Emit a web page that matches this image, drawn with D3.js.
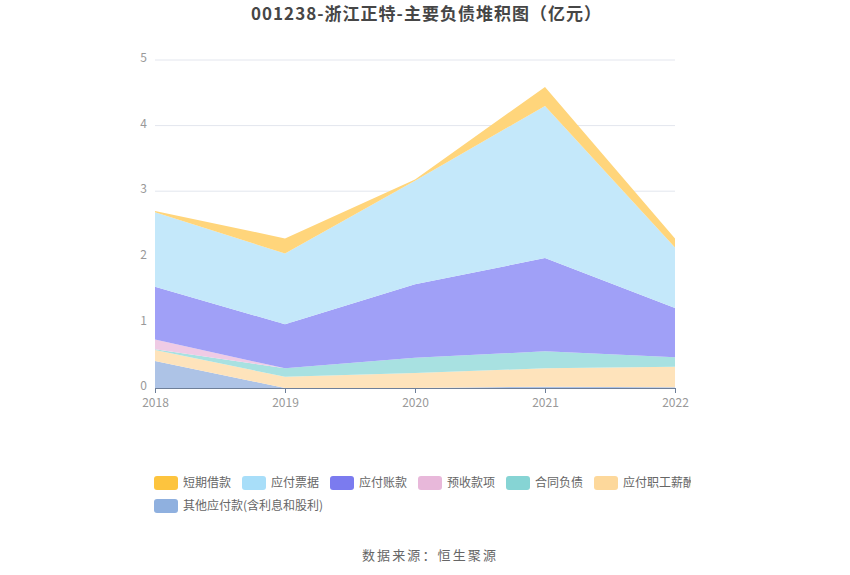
<!DOCTYPE html>
<html><head><meta charset="utf-8">
<script src="https://cdn.jsdelivr.net/npm/d3@7"></script>
<style>body{margin:0;background:#fff}svg{font-family:"Noto Sans CJK SC","Noto Sans",sans-serif}</style>
</head><body><svg id="c" width="850" height="575"></svg>
<script>
const years = ["2018","2019","2020","2021","2022"];
const seriesNames = ["其他应付款(含利息和股利)","应付职工薪酬","合同负债","预收款项","应付账款","应付票据","短期借款"];
const other     = [0.41, 0.00, 0.00, 0.02, 0.01];
const salary    = [0.17, 0.17, 0.23, 0.28, 0.315];
const contract  = [0.01, 0.13, 0.23, 0.26, 0.145];
const advance   = [0.15, 0.00, 0.00, 0.00, 0.00];
const payable   = [0.805, 0.67, 1.12, 1.42, 0.75];
const notes     = [1.135, 1.08, 1.58, 2.32, 0.92];
const shortLoan = [0.02, 0.23, 0.02, 0.29, 0.14];
const yTicks = [0,1,2,3,4,5];
const legendOrder = ["短期借款","应付票据","应付账款","预收款项","合同负债","应付职工薪酬","其他应付款(含利息和股利)"];
const legendColors = {"短期借款":"#fdc43e","应付票据":"#a8def9","应付账款":"#7b7bef","预收款项":"#e8b8da","合同负债":"#86d4d4","应付职工薪酬":"#fdd89b","其他应付款(含利息和股利)":"#8fb0df"};
const areaColors = {"短期借款":"#ffd57b","应付票据":"#c4e8fa","应付账款":"#a0a0f7","预收款项":"#efcbe5","合同负债":"#a8e1e1","应付职工薪酬":"#fee3bb","其他应付款(含利息和股利)":"#adc3e6"};
const seriesData = [other, salary, contract, advance, payable, notes, shortLoan];

const svg = d3.select("#c");
const x = d3.scalePoint().domain(years).range([155,675]);
const y = d3.scaleLinear().domain([0,5]).range([388,60]);

const table = years.map((yr,i)=>{const o={year:yr}; seriesNames.forEach((s,j)=>o[s]=seriesData[j][i]); return o;});
const stack = d3.stack().keys(seriesNames)(table);

// grid
svg.append("g").selectAll("line").data(yTicks.filter(d=>d>0)).join("line")
  .attr("x1",155).attr("x2",675).attr("y1",d=>y(d)).attr("y2",d=>y(d))
  .attr("stroke","#e3e6ee").attr("stroke-width",1);

const area = d3.area().x(d=>x(d.data.year)).y0(d=>y(d[0])).y1(d=>y(d[1]));
svg.append("g").selectAll("path").data(stack).join("path")
  .attr("d",area).attr("fill",d=>areaColors[d.key]);

// y labels
svg.append("g").selectAll("text").data(yTicks).join("text")
  .attr("x",147).attr("y",d=>y(d)-2).attr("dy","0.35em").attr("text-anchor","end")
  .attr("fill","#999").attr("font-size",12).text(d=>d);

// x axis
const xa = svg.append("g").attr("transform","translate(0,388)")
  .call(d3.axisBottom(x).tickSize(5).tickPadding(5));
xa.select(".domain").attr("stroke","#6e7f99");
xa.selectAll(".tick line").attr("stroke","#6e7f99");
xa.selectAll("text").attr("fill","#999").attr("font-size",12).attr("font-family",'"Noto Sans CJK SC","Noto Sans",sans-serif');

// title
svg.append("text").attr("x",426).attr("y",20).attr("text-anchor","middle")
  .attr("font-size",17).attr("font-weight","bold").attr("fill","#464646")
  .attr("textLength",350).attr("lengthAdjust","spacing")
  .text("001238-浙江正特-主要负债堆积图（亿元）");

// legend
svg.append("clipPath").attr("id","lc").append("rect").attr("x",0).attr("y",0).attr("width",691).attr("height",575);
const lg = svg.append("g").attr("clip-path","url(#lc)");
legendOrder.forEach((name,i)=>{
  const row = i<6?0:1, col = i<6?i:0;
  const gx = 154 + col*88, gy = row===0?483:506;
  lg.append("rect").attr("x",gx).attr("y",gy-7).attr("width",24).attr("height",14).attr("rx",3)
    .attr("fill",legendColors[name]);
  lg.append("text").attr("x",gx+29).attr("y",gy).attr("dy","0.35em").attr("font-size",12)
    .attr("fill","#666").text(name);
});

svg.append("text").attr("x",429).attr("y",555).attr("dy","0.35em").attr("text-anchor","middle")
  .attr("font-size",13).attr("fill","#666")
  .attr("textLength",134).attr("lengthAdjust","spacing").text("数据来源：恒生聚源");
</script></body></html>
